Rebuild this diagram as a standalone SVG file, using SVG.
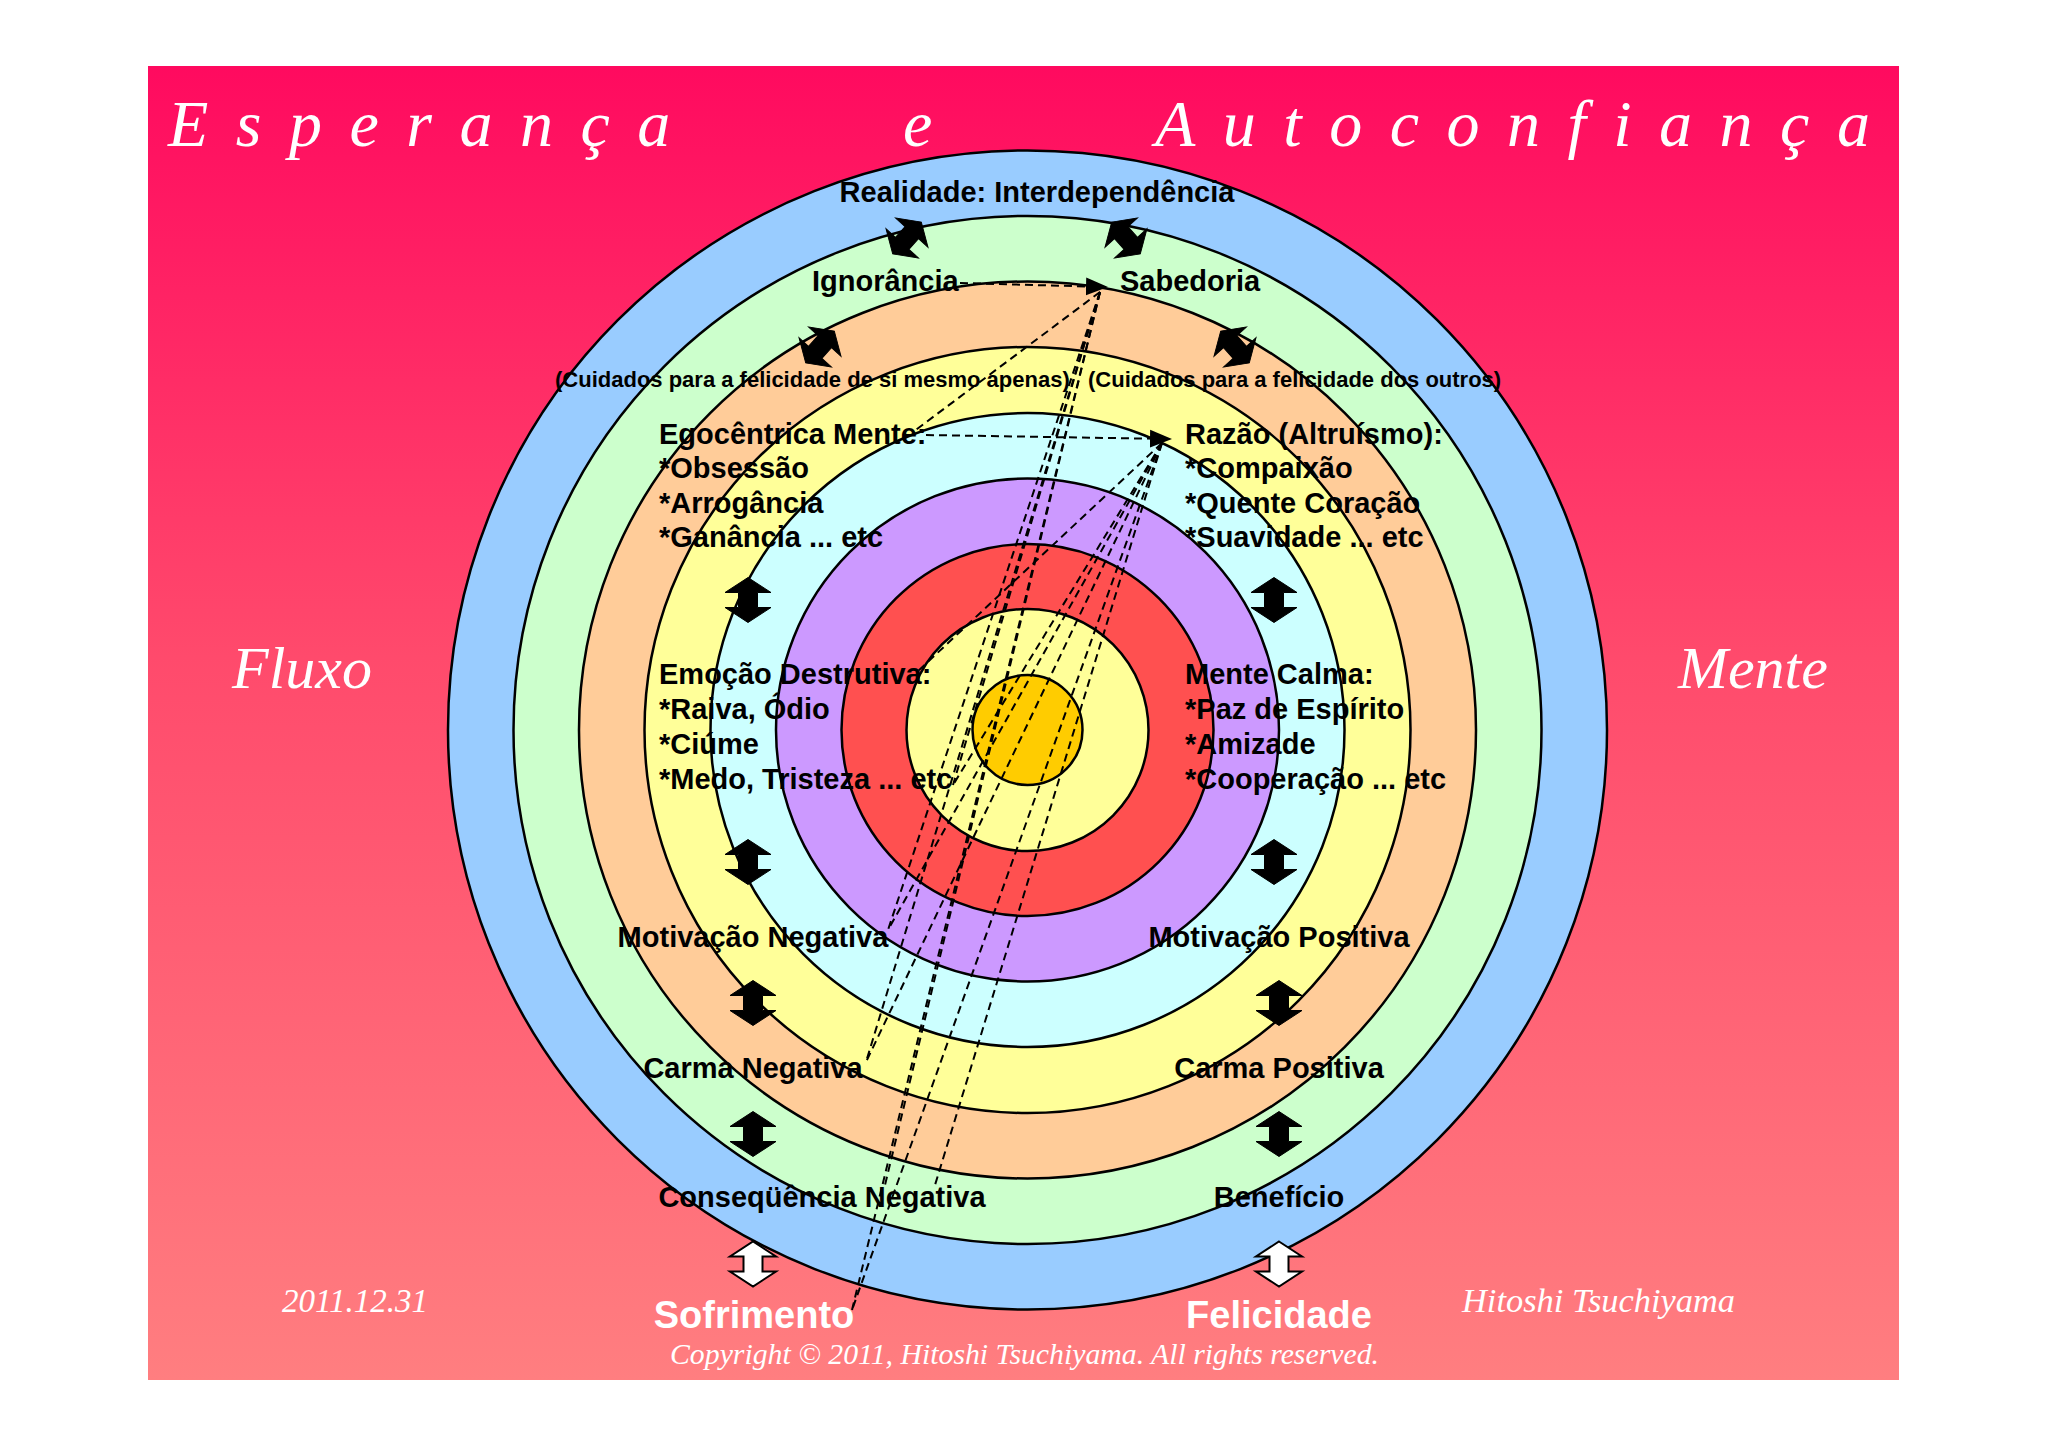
<svg xmlns="http://www.w3.org/2000/svg" width="2048" height="1447" viewBox="0 0 2048 1447">
<defs>
<linearGradient id="bg" x1="0" y1="0" x2="0" y2="1">
<stop offset="0" stop-color="#FF0A5F"/>
<stop offset="0.45" stop-color="#FF4A6C"/>
<stop offset="1" stop-color="#FF7E80"/>
</linearGradient>
<path id="dbl" d="M0,-22.5 L23,-7.5 L9.5,-7.5 L9.5,7.5 L23,7.5 L0,22.5 L-23,7.5 L-9.5,7.5 L-9.5,-7.5 L-23,-7.5 Z"/>
<marker id="ah" markerUnits="userSpaceOnUse" markerWidth="24" markerHeight="20" refX="20" refY="10" orient="auto" viewBox="0 0 24 20">
<path d="M0,1 L22,10 L0,19 Z" fill="#000"/>
</marker>
<style>
.ring{stroke:#000;stroke-width:2.5}
.lbl{font-family:'Liberation Sans',Arial,sans-serif;font-weight:bold;font-size:29px;fill:#000}
.sm{font-size:22px}
.big{font-size:38px;fill:#fff}
.scr{font-family:'Liberation Serif','Times New Roman',serif;font-style:italic;fill:#fff}
.dash{fill:none;stroke:#000;stroke-width:2;stroke-dasharray:8 5}
.arr{fill:#000;stroke:#000;stroke-width:1}
.warr{fill:#fff;stroke:#000;stroke-width:2}
.mid{text-anchor:middle}
</style>
</defs>
<rect x="0" y="0" width="2048" height="1447" fill="#fff"/>
<rect x="148" y="66" width="1751" height="1314" fill="url(#bg)"/>

<g id="title">
<text class="scr" x="168" y="146" font-size="66" letter-spacing="27.5">Esperança</text>
<text class="scr" x="903" y="146" font-size="66">e</text>
<text class="scr" x="1155" y="146" font-size="66" letter-spacing="27.5">Autoconfiança</text>
</g>

<g id="rings">
<circle class="ring" cx="1027.5" cy="730" r="579.5" fill="#99CCFF"/>
<circle class="ring" cx="1027.5" cy="730" r="514" fill="#CCFFCC"/>
<circle class="ring" cx="1027.5" cy="730" r="448.5" fill="#FFCC99"/>
<circle class="ring" cx="1027.5" cy="730" r="383" fill="#FFFF99"/>
<circle class="ring" cx="1027.5" cy="730" r="317" fill="#CCFFFF"/>
<circle class="ring" cx="1027.5" cy="730" r="251.5" fill="#CC99FF"/>
<circle class="ring" cx="1027.5" cy="730" r="186" fill="#FF5050"/>
<circle class="ring" cx="1027.5" cy="730" r="121" fill="#FFFF99"/>
<circle class="ring" cx="1027.5" cy="730" r="55" fill="#FFCC00"/>
</g>

<g id="connectors">
<line class="dash" x1="960" y1="283" x2="1106" y2="287" marker-end="url(#ah)"/>
<line class="dash" x1="926" y1="435" x2="1170" y2="439" marker-end="url(#ah)"/>
<line class="dash" x1="1100" y1="292" x2="913" y2="432"/>
<line class="dash" x1="1100" y1="292" x2="852" y2="1310"/>
<line class="dash" x1="1100" y1="292" x2="866" y2="1062"/>
<line class="dash" x1="1100" y1="292" x2="888" y2="930"/>
<line class="dash" x1="1100" y1="292" x2="953" y2="785"/>
<line class="dash" x1="1100" y1="292" x2="885" y2="1185"/>
<line class="dash" x1="1162" y1="443" x2="917" y2="672"/>
<line class="dash" x1="1162" y1="443" x2="852" y2="1310"/>
<line class="dash" x1="1162" y1="443" x2="866" y2="1062"/>
<line class="dash" x1="1162" y1="443" x2="888" y2="930"/>
<line class="dash" x1="1162" y1="443" x2="953" y2="785"/>
<line class="dash" x1="1162" y1="443" x2="935" y2="1185"/>
</g>

<g id="arrows">
<use href="#dbl" class="arr" transform="translate(907,238) rotate(42) scale(0.95)"/>
<use href="#dbl" class="arr" transform="translate(1126,238) rotate(-42) scale(0.95)"/>
<use href="#dbl" class="arr" transform="translate(820,347) rotate(42) scale(0.95)"/>
<use href="#dbl" class="arr" transform="translate(1235,347) rotate(-42) scale(0.95)"/>
<use href="#dbl" class="arr" transform="translate(748,600)"/>
<use href="#dbl" class="arr" transform="translate(1274,600)"/>
<use href="#dbl" class="arr" transform="translate(748,862)"/>
<use href="#dbl" class="arr" transform="translate(1274,862)"/>
<use href="#dbl" class="arr" transform="translate(753,1003)"/>
<use href="#dbl" class="arr" transform="translate(1279,1003)"/>
<use href="#dbl" class="arr" transform="translate(753,1134)"/>
<use href="#dbl" class="arr" transform="translate(1279,1134)"/>
<use href="#dbl" class="warr" transform="translate(753,1264)"/>
<use href="#dbl" class="warr" transform="translate(1279,1264)"/>
</g>

<g id="node-realidade"><text class="lbl mid" x="1037" y="202">Realidade: Interdependência</text></g>
<g id="node-ignorancia"><text class="lbl" x="812" y="291">Ignorância</text></g>
<g id="node-sabedoria"><text class="lbl" x="1120" y="291">Sabedoria</text></g>
<g id="node-cuidados-si"><text class="lbl sm" x="555" y="387">(Cuidados para a felicidade de si mesmo apenas)</text></g>
<g id="node-cuidados-outros"><text class="lbl sm" x="1088" y="387">(Cuidados para a felicidade dos outros)</text></g>
<g id="node-egocentrica">
<text class="lbl" x="659" y="444">Egocêntrica Mente:</text>
<text class="lbl" x="659" y="478">*Obsessão</text>
<text class="lbl" x="659" y="513">*Arrogância</text>
<text class="lbl" x="659" y="547">*Ganância ... etc</text>
</g>
<g id="node-razao">
<text class="lbl" x="1185" y="444">Razão (Altruísmo):</text>
<text class="lbl" x="1185" y="478">*Compaixão</text>
<text class="lbl" x="1185" y="513">*Quente Coração</text>
<text class="lbl" x="1185" y="547">*Suavidade ... etc</text>
</g>
<g id="node-emocao">
<text class="lbl" x="659" y="684">Emoção Destrutiva:</text>
<text class="lbl" x="659" y="719">*Raiva, Ódio</text>
<text class="lbl" x="659" y="754">*Ciúme</text>
<text class="lbl" x="659" y="789">*Medo, Tristeza ... etc</text>
</g>
<g id="node-calma">
<text class="lbl" x="1185" y="684">Mente Calma:</text>
<text class="lbl" x="1185" y="719">*Paz de Espírito</text>
<text class="lbl" x="1185" y="754">*Amizade</text>
<text class="lbl" x="1185" y="789">*Cooperação ... etc</text>
</g>
<g id="node-motneg"><text class="lbl mid" x="753" y="947">Motivação Negativa</text></g>
<g id="node-motpos"><text class="lbl mid" x="1279" y="947">Motivação Positiva</text></g>
<g id="node-carneg"><text class="lbl mid" x="753" y="1078">Carma Negativa</text></g>
<g id="node-carpos"><text class="lbl mid" x="1279" y="1078">Carma Positiva</text></g>
<g id="node-consneg"><text class="lbl mid" x="822" y="1207">Conseqüência Negativa</text></g>
<g id="node-beneficio"><text class="lbl mid" x="1279" y="1207">Benefício</text></g>
<g id="node-sofrimento"><text class="lbl big mid" x="754" y="1328">Sofrimento</text></g>
<g id="node-felicidade"><text class="lbl big mid" x="1279" y="1328">Felicidade</text></g>

<g id="captions">
<text class="scr" x="232" y="688" font-size="60">Fluxo</text>
<text class="scr" x="1678" y="688" font-size="60">Mente</text>
<text class="scr" x="282" y="1312" font-size="33">2011.12.31</text>
<text class="scr" x="1462" y="1312" font-size="33" textLength="273" lengthAdjust="spacingAndGlyphs">Hitoshi Tsuchiyama</text>
<text class="scr" x="670" y="1364" font-size="29" textLength="709" lengthAdjust="spacingAndGlyphs">Copyright © 2011, Hitoshi Tsuchiyama. All rights reserved.</text>
</g>
</svg>
